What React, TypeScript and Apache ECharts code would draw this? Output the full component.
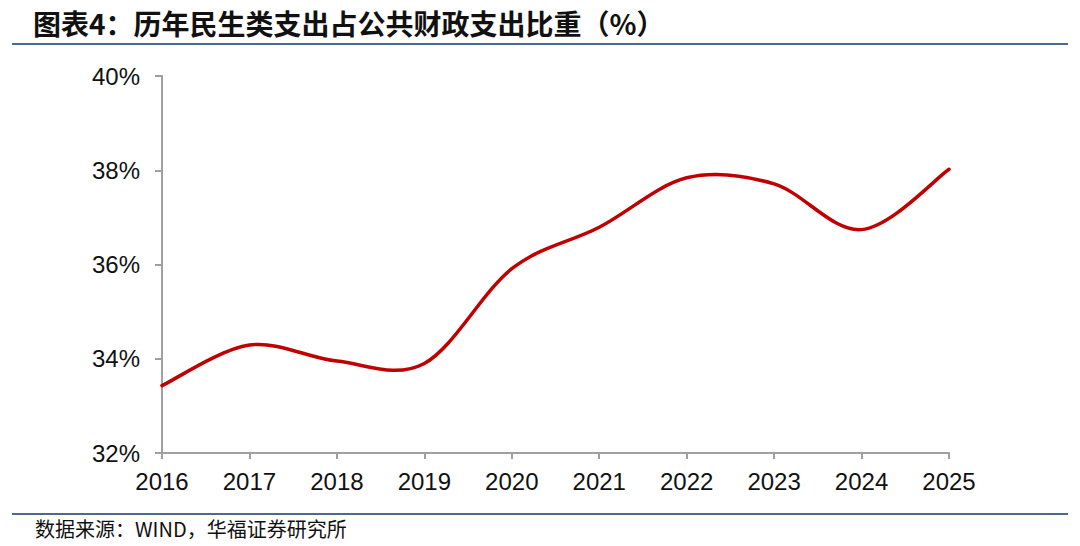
import React, { useEffect, useRef } from "react";
import * as echarts from "echarts";

const years = ["2016", "2017", "2018", "2019", "2020", "2021", "2022", "2023", "2024", "2025"];
const shareValues = [33.43, 34.29, 33.95, 33.9, 35.91, 36.79, 37.84, 37.71, 36.74, 38.02];
const titleText = "图表4：历年民生类支出占公共财政支出比重（%）";
const sourceText = "数据来源：WIND，华福证券研究所";

export default function App() {
  const ref = useRef<HTMLDivElement>(null);
  useEffect(() => {
    if (!ref.current) return;
    const chart = echarts.init(ref.current, undefined, { renderer: "svg" });
    const seriesData = shareValues.map((v, i) => [i, v]);
    chart.setOption({
      animation: false,
      backgroundColor: "#ffffff",
      grid: { left: 162, right: 131, top: 76, bottom: 93 },
      xAxis: {
        type: "category",
        data: years,
        boundaryGap: false,
        axisLine: { lineStyle: { color: "#a0a0a0", width: 2 } },
        axisTick: { show: true, length: 6, lineStyle: { color: "#a0a0a0", width: 2 }, alignWithLabel: true },
        axisLabel: { color: "#111", fontSize: 24, fontFamily: "Liberation Sans, Arial", margin: 16 },
        splitLine: { show: false },
      },
      yAxis: {
        type: "value",
        min: 32,
        max: 40,
        interval: 2,
        axisLine: { show: true, lineStyle: { color: "#a0a0a0", width: 2 } },
        axisTick: { show: true, length: 7, lineStyle: { color: "#a0a0a0", width: 2 } },
        axisLabel: { color: "#111", fontSize: 24, fontFamily: "Liberation Sans, Arial", margin: 22, formatter: (v: number) => `${v}%` },
        splitLine: { show: false },
      },
      series: [
        {
          type: "custom",
          data: seriesData,
          encode: { x: 0, y: 1 },
          renderItem: (params: any, api: any) => {
            if (params.dataIndex !== 0) return null;
            const pts = seriesData.map((d) => api.coord([d[0], d[1]]));
            const n = pts.length;
            let d = `M${pts[0][0]},${pts[0][1]}`;
            for (let i = 0; i < n - 1; i++) {
              const p0 = pts[Math.max(i - 1, 0)];
              const p1 = pts[i];
              const p2 = pts[i + 1];
              const p3 = pts[Math.min(i + 2, n - 1)];
              const c1x = p1[0] + (p2[0] - p0[0]) / 6;
              const c1y = p1[1] + (p2[1] - p0[1]) / 6;
              const c2x = p2[0] - (p3[0] - p1[0]) / 6;
              const c2y = p2[1] - (p3[1] - p1[1]) / 6;
              d += ` C${c1x},${c1y} ${c2x},${c2y} ${p2[0]},${p2[1]}`;
            }
            return {
              type: "path",
              shape: { pathData: d },
              style: { fill: "none", stroke: "#c00000", lineWidth: 3.5, lineCap: "round", lineJoin: "round" },
            };
          },
        },
      ],
      graphic: [
        {
          type: "text",
          left: 33,
          top: 9,
          style: { text: titleText, fontSize: 28, fontWeight: "bold", fill: "#111", fontFamily: "Noto Sans CJK SC" },
        },
        {
          type: "line",
          shape: { x1: 12, y1: 44, x2: 1068, y2: 44 },
          style: { stroke: "#4b6a8e", lineWidth: 2 },
        },
        {
          type: "line",
          shape: { x1: 12, y1: 514, x2: 1068, y2: 514 },
          style: { stroke: "#4b6a8e", lineWidth: 2 },
        },
        {
          type: "text",
          left: 35,
          top: 518,
          style: { text: sourceText, fontSize: 20, fill: "#111", fontFamily: "Noto Sans CJK SC" },
        },
      ],
    });
    return () => chart.dispose();
  }, []);
  return <div ref={ref} style={{ width: 1080, height: 546, position: "absolute", left: 0, top: 0 }} />;
}
